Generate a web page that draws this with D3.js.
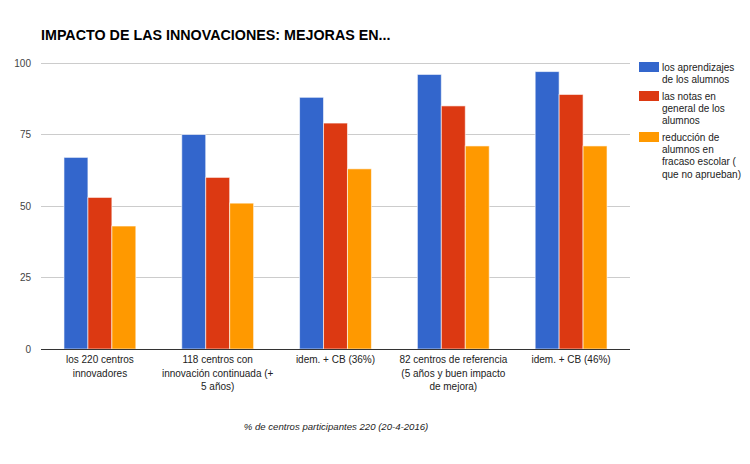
<!DOCTYPE html>
<html><head><meta charset="utf-8">
<script src="https://cdn.jsdelivr.net/npm/d3@7"></script>
<style>body{margin:0;background:#fff;} text{font-family:Arial,"Liberation Sans",sans-serif;}</style>
</head><body><svg id="c" width="750" height="464"></svg>
<script>
const categories = [
  ["los 220 centros","innovadores"],
  ["118 centros con","innovación continuada (+","5 años)"],
  ["idem. + CB (36%)"],
  ["82 centros de referencia","(5 años y buen impacto","de mejora)"],
  ["idem. + CB (46%)"]
];
const seriesNames = [
  ["los aprendizajes","de los alumnos"],
  ["las notas en","general de los","alumnos"],
  ["reducción de","alumnos en","fracaso escolar (","que no aprueban)"]
];
const aprendizajes = [67, 75, 88, 96, 97];
const notas = [53, 60, 79, 85, 89];
const fracaso = [43, 51, 63, 71, 71];
const yTicks = [0, 25, 50, 75, 100];
const colors = ["#3366cc", "#dc3912", "#ff9900"];
const title = "IMPACTO DE LAS INNOVACIONES: MEJORAS EN...";
const footer = "% de centros participantes 220 (20-4-2016)";

(function(){
const series = [aprendizajes, notas, fracaso];
const svg = d3.select("#c");
const pL = 41, pR = 630, pT = 63, pB = 349;

const x0 = d3.scaleBand().domain(d3.range(categories.length)).range([pL, pR]).paddingInner(0.39).paddingOuter(0.195);
const x1 = d3.scaleBand().domain(d3.range(series.length)).range([0, x0.bandwidth()]);
const y = d3.scaleLinear().domain([0, 100]).range([pB, pT]);

svg.append("g").selectAll("line").data(yTicks.filter(d => d > 0)).join("line")
  .attr("x1", pL).attr("x2", pR).attr("y1", d => y(d)).attr("y2", d => y(d))
  .attr("stroke", "#cccccc").attr("stroke-width", 1).attr("shape-rendering","crispEdges");

svg.append("g").selectAll("text").data(yTicks).join("text")
  .attr("x", 31).attr("y", d => y(d) + 3.5).attr("text-anchor", "end")
  .attr("font-size", 10).attr("fill", "#444").text(d => d);

const g = svg.append("g");
series.forEach((vals, si) => {
  g.selectAll(null).data(vals).join("rect")
    .attr("x", (d, i) => x0(i) + x1(si))
    .attr("y", d => y(d))
    .attr("width", x1.bandwidth())
    .attr("height", d => y(0) - y(d))
    .attr("fill", colors[si])
    .attr("stroke", "#ffffff").attr("stroke-width", 1).attr("stroke-opacity", 0.6);
});

svg.append("line").attr("x1", pL).attr("x2", pR).attr("y1", y(0)).attr("y2", y(0))
  .attr("stroke", "#333").attr("stroke-width", 1).attr("shape-rendering","crispEdges");

categories.forEach((lines, i) => {
  const t = svg.append("text").attr("text-anchor", "middle").attr("font-size", 10).attr("fill", "#222");
  lines.forEach((l, j) => t.append("tspan").attr("x", x0(i) + x0.bandwidth() / 2).attr("y", 363.3 + j * 13.3).text(l));
});

svg.append("text").attr("x", 41).attr("y", 40).attr("font-size", 14.3).attr("font-weight", "bold")
  .attr("fill", "#000").text(title);

const legY = [62, 91, 132];
seriesNames.forEach((lines, si) => {
  svg.append("rect").attr("x", 639).attr("y", legY[si]).attr("width", 20).attr("height", 10).attr("fill", colors[si]);
  const t = svg.append("text").attr("font-size", 10).attr("fill", "#222");
  lines.forEach((l, j) => t.append("tspan").attr("x", 662).attr("y", legY[si] + 8.5 + j * 12.4).text(l));
});

svg.append("text").attr("x", 336).attr("y", 429.5).attr("text-anchor", "middle").attr("font-size", 9.6)
  .attr("font-style", "italic").attr("fill", "#222").text(footer);
})();
</script></body></html>
